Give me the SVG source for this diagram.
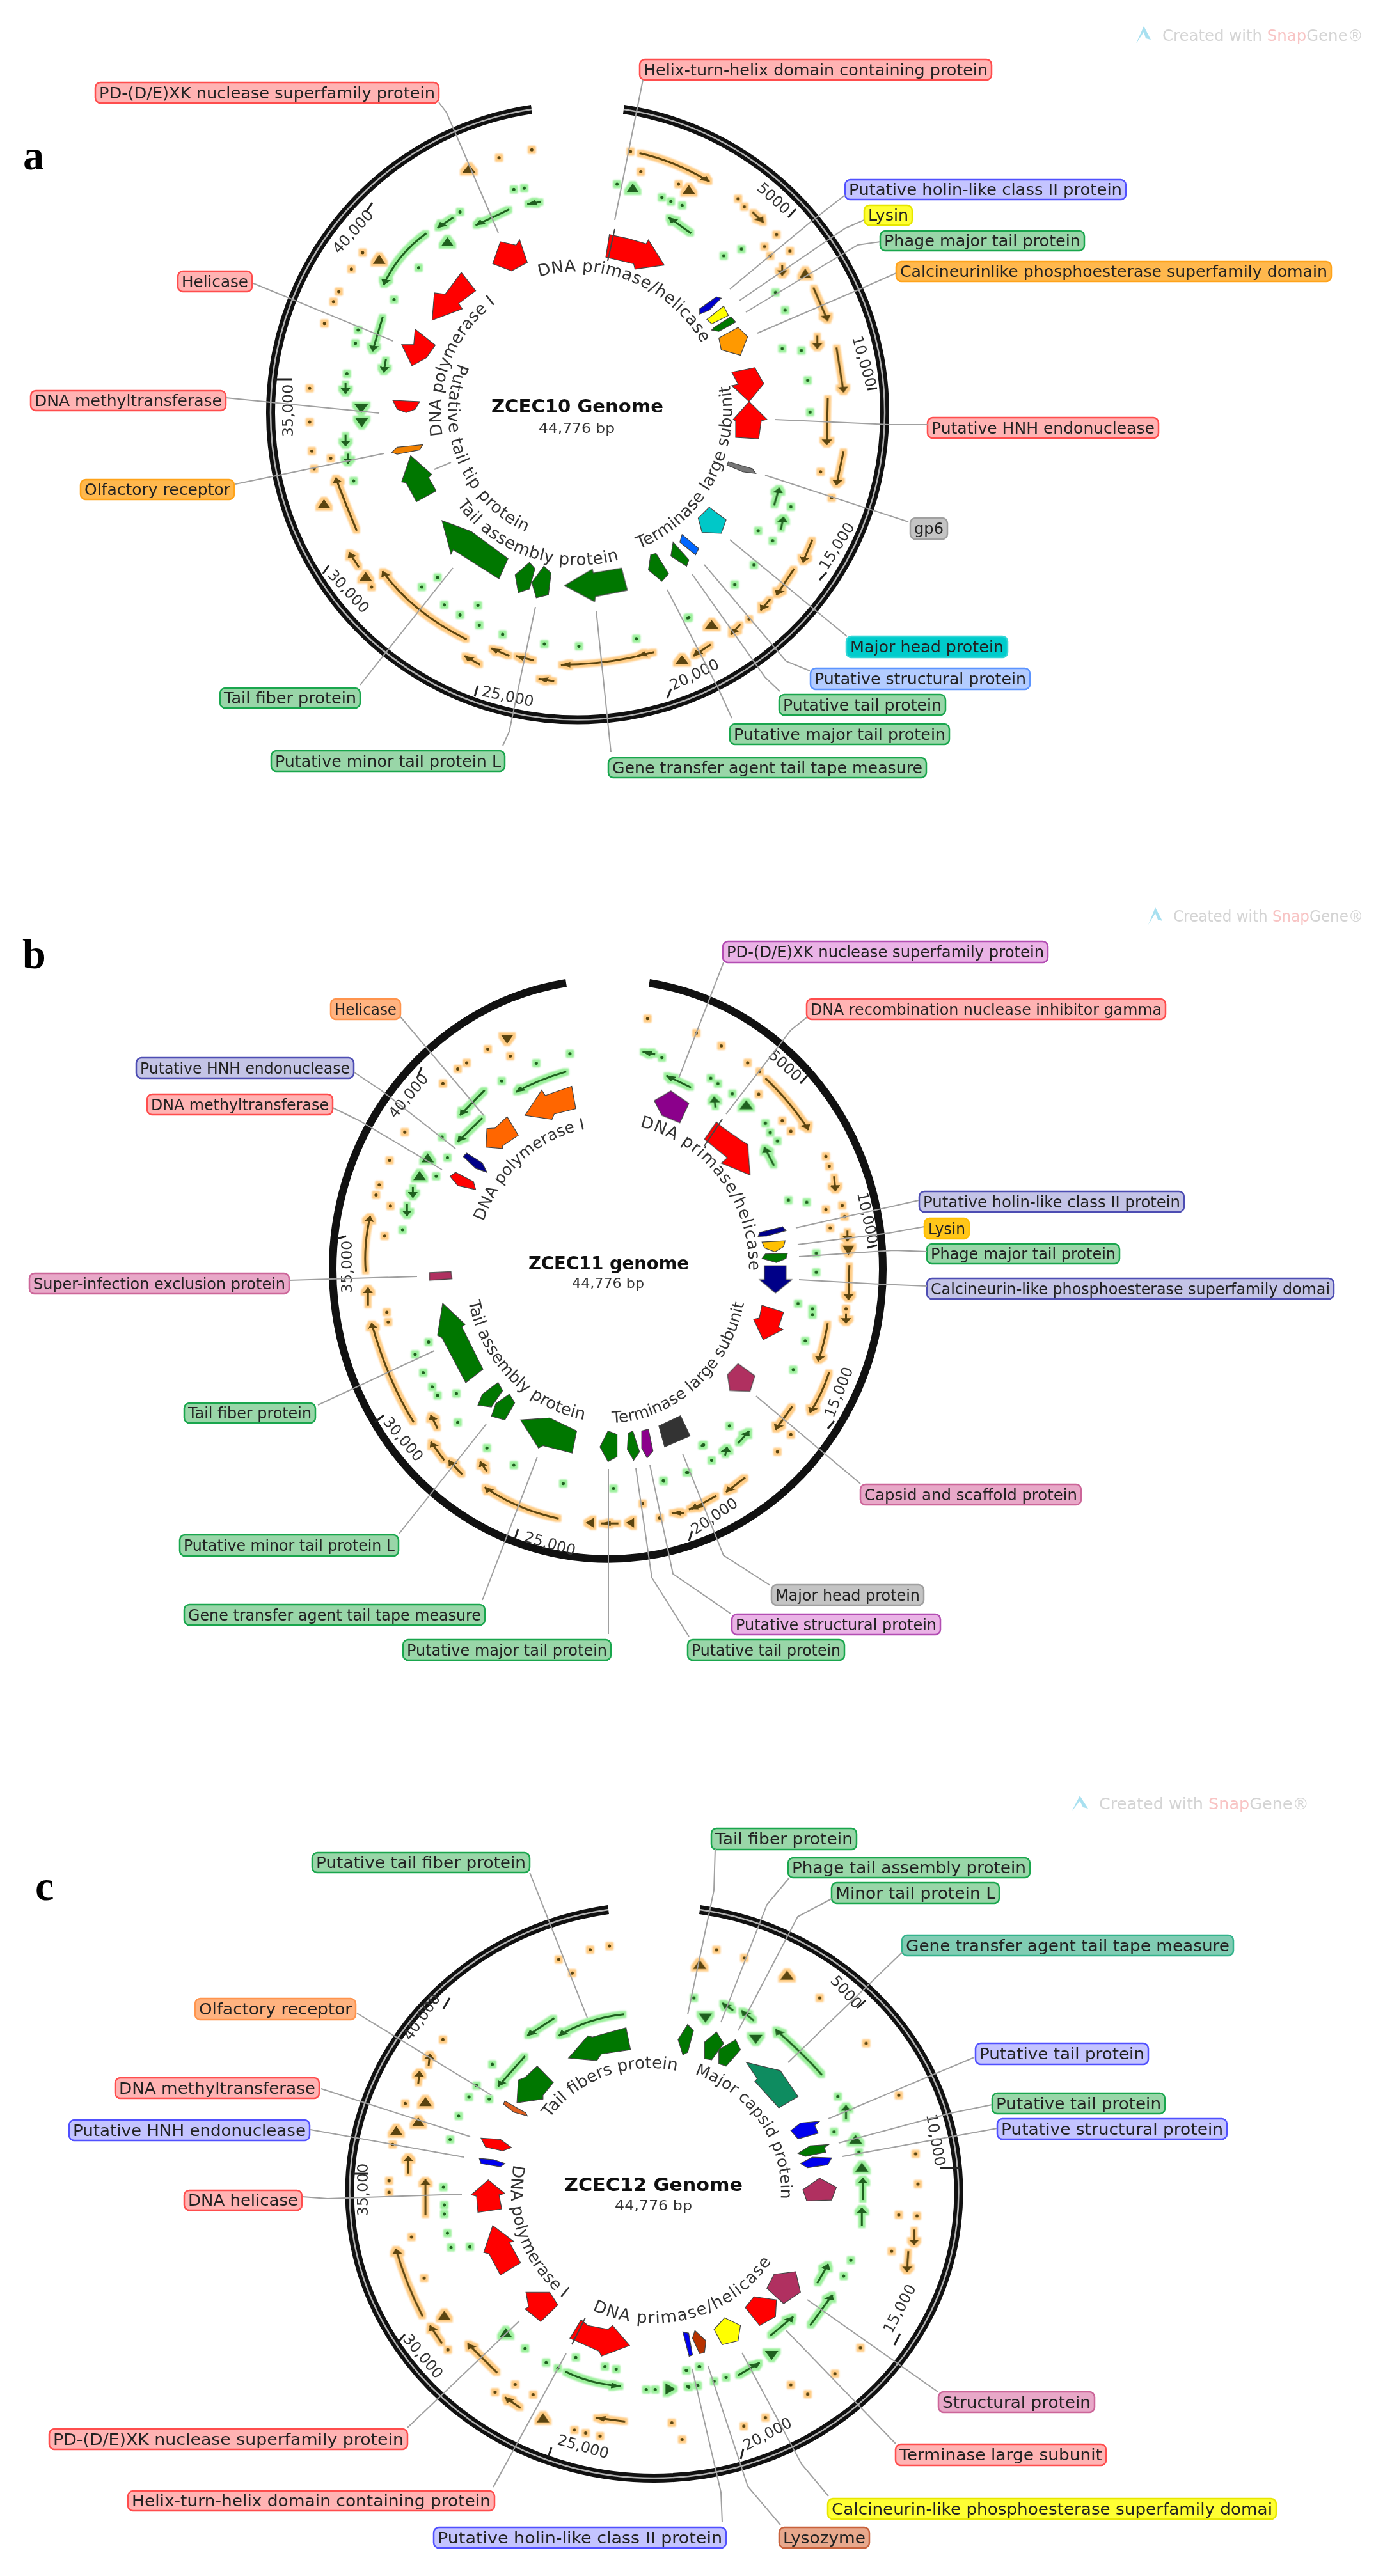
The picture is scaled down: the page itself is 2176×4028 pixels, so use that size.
<svg xmlns="http://www.w3.org/2000/svg" width="2176" height="4028" viewBox="0 0 2176 4028">
<style>
text{font-family:"DejaVu Sans","Liberation Sans",sans-serif}
rect.n{rx:8px;stroke-width:2.5}
.l{font-size:24px;fill:#222}
.r{fill:#ffb3b3;stroke:#ff4d4d}.bl{fill:#c4c4ff;stroke:#5050ff}.ye{fill:#ffff33;stroke:#e6e600}.gn{fill:#99d6a8;stroke:#19a64d}.or{fill:#ffb84d;stroke:#ffa31a}.gy{fill:#c4c4c4;stroke:#a0a0a0}.cy{fill:#00cccc;stroke:#33d6d6}.lb{fill:#b3ccff;stroke:#5c94ff}.oo{fill:#ffb380;stroke:#ff944d}.nv{fill:#c4c4e6;stroke:#4d4db3}.pk{fill:#e8a8c8;stroke:#cc6699}.pp{fill:#eab3e6;stroke:#b34db3}.am{fill:#ffc61a;stroke:#ffbf00}.tl{fill:#80ccb3;stroke:#33b38c}.ly{fill:#e8a88c;stroke:#c8623c}
.g{stroke:#444;stroke-width:1.2;vector-effect:non-scaling-stroke}
.ring{fill:none;stroke-linecap:butt}
.rk{stroke:#111;stroke-width:14}.ri{stroke:#b4b4b4;stroke-width:2.5}
.tk{stroke:#222;stroke-width:3;fill:none}
.tt{font-size:23.5px;fill:#333}
.cv{font-size:26px;fill:#333}
.tm{font-size:28px;font-weight:bold;fill:#111}
.bp{font-size:22px;fill:#333}
.pl{font-family:"Liberation Serif",serif;font-weight:bold;font-size:66px;fill:#000}
.wm{font-size:24px;fill:#d4d4d4}
.cn{fill:none;stroke:#a0a0a0;stroke-width:2}
.cd{fill:none;stroke:#444;stroke-width:2}
.ko,.kg{fill:none}
.ko path{stroke:#5a4410}.kg path{stroke:#1f5f1f}
.dot{stroke-width:5;stroke-linecap:round;vector-effect:non-scaling-stroke}
.ar{stroke-width:3;vector-effect:non-scaling-stroke}
.ko .ar{marker-end:url(#ho)}.kg .ar{marker-end:url(#hg)}
.ko .tri{stroke:none;fill:#5a4410}.kg .tri{stroke:none;fill:#1f5f1f}
</style>
<defs>
<marker id="ho" markerUnits="userSpaceOnUse" viewBox="0 0 20 20" refX="19" refY="10" markerWidth="22" markerHeight="22" orient="auto"><polygon points="0 0 20 10 0 20" fill="#5a4410"/></marker>
<marker id="hg" markerUnits="userSpaceOnUse" viewBox="0 0 20 20" refX="19" refY="10" markerWidth="22" markerHeight="22" orient="auto"><polygon points="0 0 20 10 0 20" fill="#1f5f1f"/></marker>
<filter id="go" filterUnits="userSpaceOnUse" x="0" y="0" width="2176" height="4028" color-interpolation-filters="sRGB"><feMorphology in="SourceAlpha" operator="dilate" radius="4" result="a"/><feFlood flood-color="#ffcc85"/><feComposite in2="a" operator="in"/><feGaussianBlur stdDeviation="1" result="h"/><feMerge><feMergeNode in="h"/><feMergeNode in="SourceGraphic"/></feMerge></filter>
<filter id="gg" filterUnits="userSpaceOnUse" x="0" y="0" width="2176" height="4028" color-interpolation-filters="sRGB"><feMorphology in="SourceAlpha" operator="dilate" radius="4" result="a"/><feFlood flood-color="#9cf09c"/><feComposite in2="a" operator="in"/><feGaussianBlur stdDeviation="1" result="h"/><feMerge><feMergeNode in="h"/><feMergeNode in="SourceGraphic"/></feMerge></filter>
<filter id="soft" filterUnits="userSpaceOnUse" x="0" y="0" width="2176" height="4028" color-interpolation-filters="sRGB"><feGaussianBlur stdDeviation="0.6"/></filter>
<path id="ap1" d="M843 433A222 222 0 0 1 1126 646"/>
<path id="ap2" d="M692 681A215 215 0 0 1 904 431"/>
<path id="ap3" d="M716 568A203 203 0 0 0 904 849"/>
<path id="ap4" d="M714 789A238 238 0 0 0 1040 841"/>
<path id="ap5" d="M999 858A226 232 0 0 0 1130 560"/>
<path id="bp1" d="M1000 1762A218 226 0 0 1 1161 2050"/>
<path id="bp2" d="M756 1910A208 222 0 0 1 1000 1768"/>
<path id="bp3" d="M732 2035A225 238 0 0 0 1000 2218"/>
<path id="bp4" d="M957 2225A219 240 0 0 0 1166 1950"/>
<path id="cp1" d="M859 3312A195 190 0 0 1 1110 3257"/>
<path id="cp2" d="M1086 3243A200 194 0 0 1 1190 3530"/>
<path id="cp3" d="M803 3385A222 215 0 0 0 1000 3641"/>
<path id="cp4" d="M926 3612A220 212 0 0 0 1240 3400"/>
</defs>
<rect width="2176" height="4028" fill="#fff"/>
<g filter="url(#soft)">
<!-- panel letters and watermarks -->
<text class="pl" x="36" y="265">a</text><text class="pl" x="35" y="1514">b</text><text class="pl" x="55" y="2971">c</text>
<g id="wm-a"><path d="M1776 68L1788 41L1799 62L1791 60L1788 50Z" fill="#a8e0f0"/><text class="wm" x="1817" y="64" textLength="314" lengthAdjust="spacingAndGlyphs">Created with <tspan fill="#f8c4c4">Snap</tspan>Gene®</text></g>
<g id="wm-b"><path d="M1795 1446L1806 1419L1817 1440L1810 1438L1806 1428Z" fill="#a8e0f0"/><text class="wm" x="1834" y="1441" textLength="297" lengthAdjust="spacingAndGlyphs">Created with <tspan fill="#f8c4c4">Snap</tspan>Gene®</text></g>
<g id="wm-c"><path d="M1675 2833L1688 2808L1701 2828L1693 2826L1688 2816Z" fill="#a8e0f0"/><text class="wm" x="1718" y="2829" textLength="328" lengthAdjust="spacingAndGlyphs">Created with <tspan fill="#f8c4c4">Snap</tspan>Gene®</text></g>
<!-- rings -->
<g id="ring-a" class="ring"><path class="rk" fill="none" d="M975 171A480 480 0 1 1 831 171"/><path class="ri" fill="none" d="M975 171A480 480 0 1 1 831 171"/></g>
<g id="ring-b" class="ring"><path class="rk" fill="none" style="stroke-width:12" d="M1015 1537A430 453 0 1 1 885 1537"/></g>
<g id="ring-c" class="ring"><path class="rk" fill="none" d="M1094 2986A476 447 0 1 1 951 2986"/><path class="ri" fill="none" d="M1094 2986A476 447 0 1 1 951 2986"/></g>
<g id="ticks-a"><path class="tk" d="M582 317L572 332M456 593H428M514 884L505 897M747 1072L742 1089M1049 1077L1043 1092M1292 895L1281 907M1371 607L1356 609M1244 327L1232 340"/>
<text class="tt" transform="translate(530 398) rotate(-48)">40,000</text><text class="tt" transform="translate(458 683) rotate(-90)">35,000</text><text class="tt" transform="translate(511 900) rotate(47)">30,000</text><text class="tt" transform="translate(752 1088) rotate(12)">25,000</text><text class="tt" transform="translate(1052 1080) rotate(-26)">20,000</text><text class="tt" transform="translate(1293 893) rotate(-58)">15,000</text><text class="tt" transform="translate(1332 528) rotate(74)">10,000</text><text class="tt" transform="translate(1182 296) rotate(42)">5000</text></g>
<g id="ticks-b"><path class="tk" d="M659 1669L652 1686M541 1933L527 1937M600 2213L586 2224M810 2391L805 2406M1082 2394L1077 2410M1304 2222L1294 2234M1371 1947L1356 1951M1262 1682L1251 1694"/>
<text class="tt" transform="translate(618 1750) rotate(-50)">40,000</text><text class="tt" transform="translate(550 2022) rotate(-90)">35,000</text><text class="tt" transform="translate(598 2224) rotate(50)">30,000</text><text class="tt" transform="translate(818 2410) rotate(16)">25,000</text><text class="tt" transform="translate(1087 2400) rotate(-34)">20,000</text><text class="tt" transform="translate(1303 2218) rotate(-68)">15,000</text><text class="tt" transform="translate(1340 1866) rotate(78)">10,000</text><text class="tt" transform="translate(1200 1652) rotate(42)">5000</text></g>
<g id="ticks-c"><path class="tk" d="M703 3124L693 3141M575 3399H552M633 3650L620 3665M862 3827L857 3842M1162 3829L1158 3845M1500 3390H1470M1407 3649L1398 3667M1353 3128L1340 3140"/>
<text class="tt" transform="translate(642 3192) rotate(-55)">40,000</text><text class="tt" transform="translate(575 3465) rotate(-90)">35,000</text><text class="tt" transform="translate(629 3658) rotate(50)">30,000</text><text class="tt" transform="translate(870 3822) rotate(16)">25,000</text><text class="tt" transform="translate(1167 3832) rotate(-28)">20,000</text><text class="tt" transform="translate(1394 3650) rotate(-62)">15,000</text><text class="tt" transform="translate(1448 3307) rotate(80)">10,000</text><text class="tt" transform="translate(1297 3098) rotate(48)">5000</text></g>
<!-- curved gene-group titles and centre text -->
<g id="titles-a"><text class="cv" letter-spacing=".5"><textPath href="#ap1">DNA primase/helicase</textPath></text><text class="cv"><textPath href="#ap2">DNA polymerase I</textPath></text><text class="cv" letter-spacing=".7"><textPath href="#ap3">Putative tail tip protein</textPath></text><text class="cv" letter-spacing=".5"><textPath href="#ap4">Tail assembly protein</textPath></text><text class="cv" letter-spacing=".2"><textPath href="#ap5">Terminase large subunit</textPath></text>
<text class="tm" x="768" y="645" textLength="269" lengthAdjust="spacingAndGlyphs">ZCEC10 Genome</text><text class="bp" x="842" y="677" textLength="119" lengthAdjust="spacingAndGlyphs">44,776 bp</text></g>
<g id="titles-b"><text class="cv" letter-spacing="1"><textPath href="#bp1">DNA primase/helicase</textPath></text><text class="cv" style="font-size:25px"><textPath href="#bp2">DNA polymerase I</textPath></text><text class="cv"><textPath href="#bp3">Tail assembly protein</textPath></text><text class="cv" style="font-size:25px"><textPath href="#bp4">Terminase large subunit</textPath></text>
<text class="tm" x="826" y="1985" textLength="251" lengthAdjust="spacingAndGlyphs">ZCEC11 genome</text><text class="bp" x="894" y="2014" textLength="113" lengthAdjust="spacingAndGlyphs">44,776 bp</text></g>
<g id="titles-c"><text class="cv"><textPath href="#cp1">Tail fibers protein</textPath></text><text class="cv" style="font-size:25px"><textPath href="#cp2">Major capsid protein</textPath></text><text class="cv"><textPath href="#cp3">DNA polymerase I</textPath></text><text class="cv" letter-spacing="1.5"><textPath href="#cp4">DNA primase/helicase</textPath></text>
<text class="tm" x="882" y="3426" textLength="279" lengthAdjust="spacingAndGlyphs">ZCEC12 Genome</text><text class="bp" x="961" y="3456" textLength="121" lengthAdjust="spacingAndGlyphs">44,776 bp</text></g>
<!-- small ORF features -->
<g id="a-orfs-orange" class="ko" filter="url(#go)">
<g transform="matrix(.7015 0 0 .4145 0 0)"><path class="dot" d="M1185 565h.1M1112 595h.1M808 953h.1M783 1015h.1M755 1100h.1M743 1138h.1M723 1220h.1M690 1465h.1M1428 648h.1M1512 695h.1M1405 572h.1"/><path class="tri" d="M1045 620l15 32h-30zM845 960l14 36h-28zM1535 698l14 34h-28z"/><path class="ar" d="M1425 578Q1500 605 1581 685"/></g>
<g transform="matrix(.75 0 0 .4145 1000 0)"><path class="dot" d="M205 750h.1M218 780h.1M285 885h.1M260 930h.1M272 965h.1M313 947h.1"/><path class="tri" d="M345 1012l12 36h-24z"/><path class="ar" d="M235 800L258 840"/><path class="ar" d="M297 1000L297 1040"/><path class="ar" d="M362 1085L392 1210"/><path class="ar" d="M370 1265L370 1315"/><path class="ar" d="M410 1310L425 1480"/></g>
<g transform="matrix(.7015 0 0 .3954 0 650)"><path class="dot" d="M690 25h.1M695 140h.1M737 168h.1M700 210h.1M828 678h.1"/><path class="tri" d="M722 330l14 36h-28zM815 618l14 36h-28zM1520 948l14 34h-28z"/><path class="ar" d="M795 455Q770 350 748 245"/><path class="ar" d="M800 600L778 540"/><path class="ar" d="M1040 885Q920 780 852 615"/><path class="ar" d="M1070 985L1035 950"/><path class="ar" d="M1135 950L1095 920"/><path class="ar" d="M1190 968L1150 950"/><path class="ar" d="M1235 1050L1200 1040"/><path class="ar" d="M1435 945Q1345 985 1250 985"/></g>
<g transform="matrix(.75 0 0 .3954 1000 650)"><path class="dot" d="M377 222h.1M400 325h.1M228 805h.1"/><path class="tri" d="M150 808l14 34h-28zM88 948l14 34h-28z"/><path class="ar" d="M392 -71L390 115"/><path class="ar" d="M425 140L410 275"/><path class="ar" d="M360 490L340 580"/><path class="ar" d="M322 605L285 710"/><path class="ar" d="M272 725L252 770"/><path class="ar" d="M210 825L190 865"/><path class="ar" d="M148 905L112 950"/><path class="ar" d="M30 935L-5 950"/></g>
</g>
<g id="a-orfs-green" class="kg" filter="url(#gg)">
<g transform="matrix(.7015 0 0 .4145 0 0)"><path class="dot" d="M1145 715h.1M1168 710h.1M1025 800h.1M933 1010h.1M878 1130h.1M798 1245h.1M792 1295h.1M773 1410h.1M1375 695h.1M1475 745h.1M1495 760h.1M1520 775h.1"/><path class="tri" d="M997 895l14 34h-28zM790 1525h30l-15 34zM1410 692l14 34h-28z"/><path class="ar" d="M1135 790L1060 850"/><path class="ar" d="M1205 762L1175 770"/><path class="ar" d="M1010 820L975 860"/><path class="ar" d="M950 880Q885 960 855 1075"/><path class="ar" d="M853 1195L830 1325"/><path class="ar" d="M860 1355L855 1405"/><path class="ar" d="M770 1445L770 1485"/><path class="ar" d="M1540 880L1490 820"/></g>
<g transform="matrix(.75 0 0 .4145 1000 0)"><path class="dot" d="M175 965h.1M212 940h.1M283 1103h.1M303 1170h.1M297 1315h.1M337 1322h.1M350 1435h.1M355 1555h.1"/></g>
<g transform="matrix(.7015 0 0 .3954 0 650)"><path class="dot" d="M788 258h.1M975 640h.1M940 678h.1M990 748h.1M1065 750h.1M1025 788h.1M1068 828h.1M1120 865h.1M1213 903h.1M1290 912h.1M1418 882h.1M1535 798h.1"/><path class="ar" d="M770 75L770 120"/><path class="ar" d="M775 150L775 190"/><path class="tri" d="M792 10h28l-14 36z"/></g>
<g transform="matrix(.75 0 0 .3954 1000 650)"><path class="dot" d="M315 360h.1M247 455h.1M277 495h.1M238 590h.1M198 668h.1M100 800h.1"/><path class="ar" d="M280 355L291 285"/><path class="ar" d="M294 450L300 400"/></g>
</g>
<g id="b-orfs-orange" class="ko" filter="url(#go)">
<g transform="matrix(.7015 0 0 .4145 0 1400)"><path class="dot" d="M1443 465h.1M1137 607h.1M1087 580h.1M1040 632h.1M1020 655h.1M987 710h.1M902 893h.1M868 1000h.1M845 1092h.1M838 1130h.1M870 1172h.1M857 1285h.1"/><path class="tri" d="M1130 560l-14 -34h28z"/><path class="ar" d="M815 1420Q810 1320 825 1210"/><path class="ar" d="M820 1548L820 1480"/></g>
<g transform="matrix(.75 0 0 .4145 1000 1400)"><path class="dot" d="M118 520h.1M170 568h.1M225 632h.1M250 665h.1M248 750h.1M297 850h.1M315 890h.1M388 985h.1M395 1022h.1M388 1185h.1M422 1170h.1M427 1212h.1M397 1255h.1M430 1560h.1"/><path class="tri" d="M435 1358l-12 -36h24z"/><path class="ar" d="M262 690Q310 770 352 885"/><path class="ar" d="M405 1060L408 1115"/><path class="ar" d="M433 1265L433 1305"/><path class="ar" d="M437 1395L435 1525"/></g>
<g transform="matrix(.7015 0 0 .3827 0 2050)"><path class="dot" d="M862 5h.1M865 45h.1M1432 787h.1M1470 845h.1"/><path class="tri" d="M1305 865l18 -20v40zM1395 865l18 -20v40z"/><path class="ar" d="M922 455Q865 290 828 50"/><path class="ar" d="M975 480L960 425"/><path class="ar" d="M990 610L960 535"/><path class="ar" d="M1030 668L1000 610"/><path class="ar" d="M1085 655L1070 615"/><path class="ar" d="M1245 848Q1150 810 1080 720"/><path class="ar" d="M1378 868L1340 868"/><path class="ar" d="M1525 825L1497 825"/><path class="ar" d="M1568 795L1535 810"/></g>
<g transform="matrix(.75 0 0 .3827 1000 2050)"><path class="dot" d="M315 505h.1M287 575h.1"/><path class="ar" d="M430 10L430 50"/><path class="ar" d="M392 50Q385 130 372 205"/><path class="ar" d="M395 250Q380 340 355 415"/><path class="ar" d="M318 390L283 485"/><path class="ar" d="M220 680L180 740"/><path class="ar" d="M160 755L108 810"/></g>
</g>
<g id="b-orfs-green" class="kg" filter="url(#gg)">
<g transform="matrix(.7015 0 0 .4145 0 1400)"><path class="dot" d="M1270 598h.1M1195 633h.1M1118 700h.1M985 912h.1M997 990h.1M972 1060h.1M897 1262h.1M1475 612h.1"/><path class="tri" d="M953 973l14 34h-28zM935 1040l14 34h-28z"/><path class="ar" d="M1262 665Q1200 695 1150 742"/><path class="ar" d="M1080 735L1025 830"/><path class="ar" d="M1075 840L1020 930"/><path class="ar" d="M920 1100L920 1140"/><path class="ar" d="M907 1165L907 1210"/><path class="ar" d="M1460 600L1432 590"/><path class="ar" d="M1540 725L1485 680"/></g>
<g transform="matrix(.75 0 0 .4145 1000 1400)"><path class="dot" d="M148 690h.1M163 710h.1M193 748h.1M262 860h.1M272 895h.1M287 927h.1M310 1150h.1M348 1158h.1M368 1350h.1M368 1422h.1M330 1540h.1M360 1560h.1"/><path class="tri" d="M222 773l14 34h-28z"/><path class="ar" d="M158 800L155 760"/><path class="ar" d="M280 1020L260 950"/></g>
<g transform="matrix(.7015 0 0 .3827 0 2050)"><path class="dot" d="M955 127h.1M925 177h.1M943 252h.1M963 310h.1M975 345h.1M1017 337h.1M1020 455h.1M1085 560h.1M1145 630h.1M1255 705h.1M1367 725h.1M1478 693h.1M1530 660h.1M1565 550h.1"/></g>
<g transform="matrix(.75 0 0 .3827 1000 2050)"><path class="dot" d="M360 15h.1M345 122h.1M320 240h.1M187 470h.1M133 547h.1M150 610h.1M100 660h.1M50 695h.1"/><path class="ar" d="M205 540L228 490"/><path class="ar" d="M178 590L182 555"/></g>
</g>
<g id="c-orfs-orange" class="ko" filter="url(#go)">
<g transform="matrix(.7015 0 0 .3954 0 2780)"><path class="dot" d="M1358 665h.1M1315 680h.1M1245 718h.1M1275 772h.1M987 1035h.1M903 1288h.1M875 1450h.1"/><path class="tri" d="M948 1262l14 36h-28zM932 1342l14 36h-28zM883 1377l14 36h-28z"/><path class="ar" d="M955 1140L958 1090"/><path class="ar" d="M932 1210L935 1160"/><path class="ar" d="M910 1565L910 1495"/></g>
<g transform="matrix(.75 0 0 .3954 1000 2780)"><path class="dot" d="M160 680h.1M218 712h.1M375 870h.1M472 1050h.1M540 1255h.1M575 1487h.1"/><path class="tri" d="M125 720l14 36h-28zM307 762l14 36h-28z"/></g>
<g transform="matrix(.7015 0 0 .4005 0 3400)"><path class="dot" d="M867 25h.1M867 70h.1M917 245h.1M945 405h.1M998 685h.1M1148 820h.1M1103 850h.1M1188 860h.1M1280 998h.1M1305 1010h.1M1337 1022h.1M1497 970h.1M1520 1035h.1"/><path class="tri" d="M990 532l14 36h-28zM1210 932l14 36h-28z"/><path class="ar" d="M948 160L948 20"/><path class="ar" d="M942 555Q905 430 882 290"/><path class="ar" d="M985 660L958 590"/><path class="ar" d="M1108 775L1042 660"/><path class="ar" d="M1160 912L1125 870"/><path class="ar" d="M1393 965L1328 950"/></g>
<g transform="matrix(.75 0 0 .4005 1000 3400)"><path class="dot" d="M580 38h.1M540 158h.1M578 162h.1M525 300h.1M460 677h.1M407 778h.1M315 822h.1M350 858h.1M262 950h.1M217 983h.1"/><path class="ar" d="M572 215L572 275"/><path class="ar" d="M560 300L557 380"/></g>
</g>
<g id="c-orfs-green" class="kg" filter="url(#gg)">
<g transform="matrix(.7015 0 0 .3954 0 2780)"><path class="dot" d="M1097 1133h.1M1062 1217h.1M1045 1262h.1M1090 1270h.1M1022 1337h.1M1003 1430h.1"/><path class="ar" d="M1390 935Q1310 950 1245 1020"/><path class="ar" d="M1235 950L1175 1020"/><path class="ar" d="M1170 1100L1110 1220"/></g>
<g transform="matrix(.75 0 0 .3954 1000 2780)"><path class="dot" d="M113 870h.1M413 1260h.1M405 1400h.1M457 1480h.1"/><path class="tri" d="M137 968l-14 -36h28zM242 1052l-14 -36h28zM450 1412l14 36h-28zM463 1522l14 36h-28z"/><path class="ar" d="M195 920L172 890"/><path class="ar" d="M238 960L212 920"/><path class="ar" d="M380 1175Q340 1090 283 995"/><path class="ar" d="M430 1350L430 1295"/></g>
<g transform="matrix(.7015 0 0 .4005 0 3400)"><path class="dot" d="M988 50h.1M990 120h.1M990 155h.1M997 230h.1M1005 285h.1M1047 283h.1M1170 680h.1M1283 715h.1M1348 750h.1M1373 760h.1M1217 735h.1M1243 757h.1M1440 840h.1M1460 840h.1M1530 765h.1M1558 750h.1M1535 830h.1M1555 825h.1"/><path class="tri" d="M1127 600l14 36h-28zM1505 838l-22 -22v44z"/><path class="ar" d="M1260 770Q1310 815 1383 828"/></g>
<g transform="matrix(.75 0 0 .4005 1000 3400)"><path class="dot" d="M440 335h.1M425 397h.1M97 765h.1M125 750h.1M100 828h.1M120 823h.1M155 808h.1M180 793h.1"/><path class="tri" d="M275 725l-14 -36h28z"/><path class="ar" d="M465 100L465 15"/><path class="ar" d="M463 200L463 130"/><path class="ar" d="M370 425L393 350"/><path class="ar" d="M355 590L402 470"/><path class="ar" d="M272 630L320 555"/><path class="ar" d="M205 785L250 735"/></g>
</g>
<!-- PANEL A NODES -->
<g id="a-pd"><rect class="n r" x="149" y="129" width="537" height="32"/><text class="l" x="155" y="154" textLength="525" lengthAdjust="spacingAndGlyphs">PD-(D/E)XK nuclease superfamily protein</text><polygon class="g" fill="#f00" transform="matrix(.7015 0 0 .4145 0 0)" points="1115,912 1150,925 1158,905 1175,990 1140,1022 1098,995"/></g>
<g id="a-hth"><rect class="n r" x="1000" y="93" width="550" height="32"/><text class="l" x="1006" y="118" textLength="538" lengthAdjust="spacingAndGlyphs">Helix-turn-helix domain containing protein</text><polygon class="g" fill="#f00" transform="matrix(.7015 0 0 .4145 0 0)" points="1358,885 1400,900 1440,920 1445,905 1480,1000 1415,1015 1412,995 1350,970"/></g>
<g id="a-holin"><rect class="n bl" x="1321" y="281" width="439" height="31"/><text class="l" x="1327" y="305" textLength="427" lengthAdjust="spacingAndGlyphs">Putative holin-like class II protein</text><polygon class="g" fill="#00c" transform="matrix(.75 0 0 .4145 1000 0)" points="160,1120 170,1125 145,1170 125,1185 125,1165"/></g>
<g id="a-lysin"><rect class="n ye" x="1351" y="321" width="75" height="31"/><text class="l" x="1357" y="345" textLength="63" lengthAdjust="spacingAndGlyphs">Lysin</text><polygon class="g" fill="#ff0" transform="matrix(.75 0 0 .4145 1000 0)" points="175,1155 185,1190 150,1222 140,1205"/></g>
<g id="a-phage"><rect class="n gn" x="1376" y="361" width="319" height="31"/><text class="l" x="1382" y="385" textLength="307" lengthAdjust="spacingAndGlyphs">Phage major tail protein</text><polygon class="g" fill="#070" transform="matrix(.75 0 0 .4145 1000 0)" points="190,1195 200,1215 165,1250 150,1245 155,1235"/></g>
<g id="a-calc"><rect class="n or" x="1401" y="409" width="680" height="31"/><text class="l" x="1407" y="433" textLength="668" lengthAdjust="spacingAndGlyphs">Calcineurinlike phosphoesterase superfamily domain</text><polygon class="g" fill="#f90" transform="matrix(.75 0 0 .4145 1000 0)" points="205,1235 225,1270 210,1340 170,1320 165,1275"/></g>
<g id="a-terminase-gene"><polygon class="g" fill="#f00" points="1144,582 1180,575 1194,600 1171,628 1144,603 1154,601"/></g>
<g id="a-hnh"><rect class="n r" x="1450" y="653" width="361" height="32"/><text class="l" x="1456" y="678" textLength="349" lengthAdjust="spacingAndGlyphs">Putative HNH endonuclease</text><polygon class="g" fill="#f00" points="1171,628 1199,656 1190,658 1186,686 1150,684 1150,658 1146,656"/></g>
<g id="a-gp6"><rect class="n gy" x="1423" y="810" width="58" height="33"/><text class="l" x="1429" y="835" textLength="46" lengthAdjust="spacingAndGlyphs">gp6</text><polygon class="g" fill="#777" transform="matrix(.75 0 0 .3954 1000 650)" points="185,182 235,210 242,228 215,222 182,195"/></g>
<g id="a-head"><rect class="n cy" x="1323" y="995" width="252" height="33"/><text class="l" x="1329" y="1020" textLength="240" lengthAdjust="spacingAndGlyphs">Major head protein</text><polygon class="g" fill="#00c8c8" transform="matrix(.75 0 0 .3954 1000 650)" points="145,362 180,412 170,465 130,462 122,405"/></g>
<g id="a-struct"><rect class="n lb" x="1267" y="1045" width="343" height="33"/><text class="l" x="1273" y="1070" textLength="331" lengthAdjust="spacingAndGlyphs">Putative structural protein</text><polygon class="g" fill="#06f" transform="matrix(.7015 0 0 .3954 0 650)" points="1520,470 1557,525 1550,550 1515,500"/></g>
<g id="a-ptail"><rect class="n gn" x="1218" y="1086" width="260" height="32"/><text class="l" x="1224" y="1111" textLength="248" lengthAdjust="spacingAndGlyphs">Putative tail protein</text><polygon class="g" fill="#070" transform="matrix(.7015 0 0 .3954 0 650)" points="1500,500 1535,570 1530,595 1495,555"/></g>
<g id="a-pmajor"><rect class="n gn" x="1141" y="1132" width="343" height="32"/><text class="l" x="1147" y="1157" textLength="331" lengthAdjust="spacingAndGlyphs">Putative major tail protein</text><polygon class="g" fill="#070" transform="matrix(.7015 0 0 .3954 0 650)" points="1462,545 1490,625 1475,655 1445,610 1450,550"/></g>
<g id="a-gta"><rect class="n gn" x="951" y="1185" width="497" height="31"/><text class="l" x="957" y="1209" textLength="485" lengthAdjust="spacingAndGlyphs">Gene transfer agent tail tape measure</text><polygon class="g" fill="#070" transform="matrix(.7015 0 0 .3954 0 650)" points="1258,672 1320,607 1322,622 1385,603 1398,690 1327,715 1325,735"/></g>
<g id="a-fiber"><rect class="n gn" x="344" y="1076" width="219" height="31"/><text class="l" x="350" y="1100" textLength="207" lengthAdjust="spacingAndGlyphs">Tail fiber protein</text><polygon class="g" fill="#070" transform="matrix(.7015 0 0 .3954 0 650)" points="985,415 1050,458 1132,565 1112,645 1010,530 1005,547"/></g>
<g id="a-minor"><rect class="n gn" x="424" y="1174" width="365" height="32"/><text class="l" x="430" y="1199" textLength="353" lengthAdjust="spacingAndGlyphs">Putative minor tail protein L</text><polygon class="g" fill="#070" transform="matrix(.7015 0 0 .3954 0 650)" points="1212,595 1228,622 1222,708 1195,720 1185,660"/><polygon class="g" fill="#070" transform="matrix(.7015 0 0 .3954 0 650)" points="1180,580 1192,605 1180,685 1155,700 1148,630"/></g>
<g id="a-olf"><rect class="n or" x="126" y="750" width="240" height="31"/><text class="l" x="132" y="774" textLength="228" lengthAdjust="spacingAndGlyphs">Olfactory receptor</text><polygon class="g" fill="#f08000" transform="matrix(.7015 0 0 .3954 0 650)" points="885,125 942,115 935,135 885,152 873,145"/></g>
<g id="a-tip"><polygon class="g" fill="#070" transform="matrix(.7015 0 0 .3954 0 650)" points="915,158 962,232 955,245 972,297 928,340 905,265 895,262"/></g>
<g id="a-meth"><rect class="n r" x="48" y="611" width="305" height="31"/><text class="l" x="54" y="635" textLength="293" lengthAdjust="spacingAndGlyphs">DNA methyltransferase</text><polygon class="g" fill="#f00" points="614,626 656,628 649,640 635,645 621,640"/></g>
<g id="a-hel"><rect class="n r" x="278" y="424" width="116" height="32"/><text class="l" x="284" y="449" textLength="104" lengthAdjust="spacingAndGlyphs">Helicase</text><polygon class="g" fill="#f00" transform="matrix(.7015 0 0 .4145 0 0)" points="925,1242 970,1302 950,1350 918,1380 895,1300 922,1300"/></g>
<g id="a-pol"><polygon class="g" fill="#f00" transform="matrix(.7015 0 0 .4145 0 0)" points="1028,1028 1060,1097 1022,1145 1030,1165 963,1208 968,1105 992,1110"/></g>
<!-- PANEL B NODES -->
<g id="b-hel"><rect class="n oo" x="517" y="1562" width="109" height="32"/><text class="l" x="523" y="1587" textLength="97" lengthAdjust="spacingAndGlyphs">Helicase</text><polygon class="g" fill="#f60" transform="matrix(.7015 0 0 .4145 0 1400)" points="1130,835 1155,905 1120,945 1120,955 1083,950 1085,880 1103,878"/></g>
<g id="b-pol"><polygon class="g" fill="#f60" transform="matrix(.7015 0 0 .4145 0 1400)" points="1274,720 1283,805 1235,825 1230,845 1170,830 1207,735 1215,755"/></g>
<g id="b-hnh"><rect class="n nv" x="213" y="1654" width="340" height="32"/><text class="l" x="219" y="1679" textLength="328" lengthAdjust="spacingAndGlyphs">Putative HNH endonuclease</text><polygon class="g" fill="#008" transform="matrix(.7015 0 0 .4145 0 1400)" points="1040,972 1075,1010 1085,1045 1060,1030 1032,985"/></g>
<g id="b-meth"><rect class="n r" x="230" y="1711" width="290" height="32"/><text class="l" x="236" y="1736" textLength="278" lengthAdjust="spacingAndGlyphs">DNA methyltransferase</text><polygon class="g" fill="#f00" transform="matrix(.7015 0 0 .4145 0 1400)" points="1015,1045 1055,1080 1060,1110 1020,1095 1003,1060"/></g>
<g id="b-sup"><rect class="n pk" x="46" y="1991" width="406" height="32"/><text class="l" x="52" y="2016" textLength="394" lengthAdjust="spacingAndGlyphs">Super-infection exclusion protein</text><polygon class="g" fill="#b03060" transform="matrix(.7015 0 0 .4145 0 1400)" points="957,1423 1005,1420 1007,1447 957,1452"/></g>
<g id="b-pd"><rect class="n pp" x="1130" y="1472" width="508" height="33"/><text class="l" x="1136" y="1497" textLength="496" lengthAdjust="spacingAndGlyphs">PD-(D/E)XK nuclease superfamily protein</text><polygon class="g" fill="#8b008b" transform="matrix(.7015 0 0 .4145 0 1400)" points="1495,738 1535,785 1515,858 1475,830 1458,775"/></g>
<g id="b-rec"><rect class="n r" x="1261" y="1562" width="561" height="32"/><text class="l" x="1267" y="1587" textLength="549" lengthAdjust="spacingAndGlyphs">DNA recombination nuclease inhibitor gamma</text><polygon class="g" fill="#f00" transform="matrix(.75 0 0 .4145 1000 1400)" points="160,855 172,875 212,925 225,940 230,1055 170,1010 183,990 135,920"/></g>
<g id="b-holin"><rect class="n nv" x="1437" y="1863" width="414" height="32"/><text class="l" x="1443" y="1888" textLength="402" lengthAdjust="spacingAndGlyphs">Putative holin-like class II protein</text><polygon class="g" fill="#008" transform="matrix(.75 0 0 .4145 1000 1400)" points="298,1250 305,1265 265,1285 247,1287 250,1272"/></g>
<g id="b-lysin"><rect class="n am" x="1445" y="1905" width="70" height="32"/><text class="l" x="1451" y="1930" textLength="58" lengthAdjust="spacingAndGlyphs">Lysin</text><polygon class="g" fill="#ffc000" transform="matrix(.75 0 0 .4145 1000 1400)" points="303,1303 300,1325 282,1345 260,1330 255,1308"/></g>
<g id="b-phage"><rect class="n gn" x="1449" y="1945" width="301" height="31"/><text class="l" x="1455" y="1969" textLength="289" lengthAdjust="spacingAndGlyphs">Phage major tail protein</text><polygon class="g" fill="#070" transform="matrix(.75 0 0 .4145 1000 1400)" points="308,1350 305,1370 285,1385 255,1370 262,1353"/></g>
<g id="b-calc"><rect class="n nv" x="1449" y="1999" width="636" height="32"/><text class="l" x="1455" y="2024" textLength="624" lengthAdjust="spacingAndGlyphs">Calcineurin-like phosphoesterase superfamily domai</text><polygon class="g" fill="#008" transform="matrix(.75 0 0 .4145 1000 1400)" points="260,1397 305,1397 305,1450 317,1450 283,1500 250,1450 260,1450"/></g>
<g id="b-terminase-gene"><polygon class="g" fill="#f00" points="1191,2041 1225,2052 1217,2075 1224,2079 1193,2095 1178,2063 1187,2061"/></g>
<g id="b-capsid"><rect class="n pk" x="1345" y="2321" width="345" height="32"/><text class="l" x="1351" y="2346" textLength="333" lengthAdjust="spacingAndGlyphs">Capsid and scaffold protein</text><polygon class="g" fill="#b03060" transform="matrix(.75 0 0 .3827 1000 2050)" points="205,215 240,265 230,328 188,325 183,260"/></g>
<g id="b-head"><rect class="n gy" x="1206" y="2478" width="238" height="32"/><text class="l" x="1212" y="2503" textLength="226" lengthAdjust="spacingAndGlyphs">Major head protein</text><polygon class="g" fill="#333" transform="matrix(.75 0 0 .3827 1000 2050)" points="40,470 85,428 105,510 52,555"/></g>
<g id="b-struct"><rect class="n pp" x="1144" y="2524" width="326" height="32"/><text class="l" x="1150" y="2549" textLength="314" lengthAdjust="spacingAndGlyphs">Putative structural protein</text><polygon class="g" fill="#8b008b" transform="matrix(.7015 0 0 .3827 0 2050)" points="1430,490 1445,483 1455,572 1442,600 1430,560"/></g>
<g id="b-ptail"><rect class="n gn" x="1075" y="2564" width="245" height="32"/><text class="l" x="1081" y="2589" textLength="233" lengthAdjust="spacingAndGlyphs">Putative tail protein</text><polygon class="g" fill="#070" transform="matrix(.7015 0 0 .3827 0 2050)" points="1410,490 1425,575 1412,610 1398,565 1400,500"/></g>
<g id="b-pmajor"><rect class="n gn" x="630" y="2564" width="325" height="32"/><text class="l" x="636" y="2589" textLength="313" lengthAdjust="spacingAndGlyphs">Putative major tail protein</text><polygon class="g" fill="#070" transform="matrix(.7015 0 0 .3827 0 2050)" points="1355,490 1375,505 1375,595 1355,615 1337,555"/></g>
<g id="b-gta"><rect class="n gn" x="288" y="2509" width="470" height="32"/><text class="l" x="294" y="2534" textLength="458" lengthAdjust="spacingAndGlyphs">Gene transfer agent tail tape measure</text><polygon class="g" fill="#070" transform="matrix(.7015 0 0 .3827 0 2050)" points="1160,445 1225,437 1285,490 1275,580 1210,550 1200,560"/></g>
<g id="b-minor"><rect class="n gn" x="281" y="2400" width="342" height="33"/><text class="l" x="287" y="2425" textLength="330" lengthAdjust="spacingAndGlyphs">Putative minor tail protein L</text><polygon class="g" fill="#070" transform="matrix(.7015 0 0 .3827 0 2050)" points="1110,292 1120,325 1095,392 1065,385 1075,340"/><polygon class="g" fill="#070" transform="matrix(.7015 0 0 .3827 0 2050)" points="1135,340 1147,375 1125,445 1095,430 1105,378"/></g>
<g id="b-fiber"><rect class="n gn" x="288" y="2194" width="205" height="31"/><text class="l" x="294" y="2218" textLength="193" lengthAdjust="spacingAndGlyphs">Tail fiber protein</text><polygon class="g" fill="#070" points="692,2038 727,2071 722,2075 755,2141 728,2162 691,2092 684,2088"/></g>
<!-- PANEL C NODES -->
<g id="c-ptf"><rect class="n gn" x="488" y="2897" width="340" height="31"/><text class="l" x="494" y="2921" textLength="328" lengthAdjust="spacingAndGlyphs">Putative tail fiber protein</text><polygon class="g" fill="#070" transform="matrix(.7015 0 0 .3954 0 2780)" points="1395,988 1405,1075 1340,1092 1330,1118 1267,1108 1310,1020 1320,1025"/></g>
<g id="c-tf2"><polygon class="g" fill="#070" transform="matrix(.7015 0 0 .3954 0 2780)" points="1197,1140 1233,1205 1210,1255 1210,1270 1152,1285 1155,1195 1170,1185"/></g>
<g id="c-olf"><rect class="n oo" x="305" y="3125" width="251" height="33"/><text class="l" x="311" y="3150" textLength="239" lengthAdjust="spacingAndGlyphs">Olfactory receptor</text><polygon class="g" fill="#e06020" transform="matrix(.7015 0 0 .3954 0 2780)" points="1125,1278 1172,1325 1175,1337 1145,1322 1122,1290"/></g>
<g id="c-meth"><rect class="n r" x="180" y="3249" width="319" height="32"/><text class="l" x="186" y="3274" textLength="307" lengthAdjust="spacingAndGlyphs">DNA methyltransferase</text><polygon class="g" fill="#f00" transform="matrix(.7015 0 0 .3954 0 2780)" points="1072,1425 1115,1430 1140,1462 1120,1475 1082,1460"/></g>
<g id="c-hnh"><rect class="n bl" x="108" y="3315" width="376" height="32"/><text class="l" x="114" y="3340" textLength="364" lengthAdjust="spacingAndGlyphs">Putative HNH endonuclease</text><polygon class="g" fill="#00e" transform="matrix(.7015 0 0 .3954 0 2780)" points="1068,1505 1100,1510 1125,1525 1115,1538 1072,1525"/></g>
<g id="c-tf"><rect class="n gn" x="1112" y="2859" width="227" height="33"/><text class="l" x="1118" y="2884" textLength="215" lengthAdjust="spacingAndGlyphs">Tail fiber protein</text><polygon class="g" fill="#070" transform="matrix(.75 0 0 .3954 1000 2780)" points="100,975 112,1000 100,1085 90,1095 80,1035"/></g>
<g id="c-phage"><rect class="n gn" x="1232" y="2905" width="378" height="31"/><text class="l" x="1238" y="2929" textLength="366" lengthAdjust="spacingAndGlyphs">Phage tail assembly protein</text><polygon class="g" fill="#070" transform="matrix(.75 0 0 .3954 1000 2780)" points="160,1005 175,1050 150,1115 135,1110 135,1045"/></g>
<g id="c-minor"><rect class="n gn" x="1300" y="2944" width="262" height="32"/><text class="l" x="1306" y="2969" textLength="250" lengthAdjust="spacingAndGlyphs">Minor tail protein L</text><polygon class="g" fill="#070" transform="matrix(.75 0 0 .3954 1000 2780)" points="200,1035 210,1075 180,1140 165,1130 165,1075"/></g>
<g id="c-gta"><rect class="n tl" x="1410" y="3026" width="518" height="32"/><text class="l" x="1416" y="3051" textLength="506" lengthAdjust="spacingAndGlyphs">Gene transfer agent tail tape measure</text><polygon class="g" fill="#0e8c60" transform="matrix(.75 0 0 .3954 1000 2780)" points="222,1125 293,1158 330,1260 290,1305 240,1200 245,1190"/></g>
<g id="c-ptb"><rect class="n bl" x="1525" y="3195" width="270" height="33"/><text class="l" x="1531" y="3220" textLength="258" lengthAdjust="spacingAndGlyphs">Putative tail protein</text><polygon class="g" fill="#00e" transform="matrix(.75 0 0 .3954 1000 2780)" points="375,1358 365,1375 372,1405 330,1428 315,1395 335,1365"/></g>
<g id="c-ptg"><rect class="n gn" x="1551" y="3273" width="270" height="32"/><text class="l" x="1557" y="3298" textLength="258" lengthAdjust="spacingAndGlyphs">Putative tail protein</text><polygon class="g" fill="#070" transform="matrix(.75 0 0 .3954 1000 2780)" points="395,1450 385,1462 388,1480 345,1497 330,1485 355,1455"/></g>
<g id="c-struct"><rect class="n bl" x="1559" y="3313" width="359" height="32"/><text class="l" x="1565" y="3338" textLength="347" lengthAdjust="spacingAndGlyphs">Putative structural protein</text><polygon class="g" fill="#00e" transform="matrix(.75 0 0 .3954 1000 2780)" points="400,1503 392,1530 350,1542 335,1525 360,1500"/></g>
<g id="c-capsid"><polygon class="g" fill="#b03060" transform="matrix(.75 0 0 .4005 1000 3400)" points="375,15 410,50 400,100 348,103 340,60"/></g>
<g id="c-hel"><rect class="n r" x="288" y="3425" width="184" height="31"/><text class="l" x="294" y="3449" textLength="172" lengthAdjust="spacingAndGlyphs">DNA helicase</text><polygon class="g" fill="#f00" transform="matrix(.7015 0 0 .4005 0 3400)" points="1088,22 1125,75 1112,80 1118,135 1065,148 1062,85 1050,80"/></g>
<g id="c-pol"><polygon class="g" fill="#f00" transform="matrix(.7015 0 0 .4005 0 3400)" points="1098,200 1145,262 1135,265 1160,345 1115,393 1090,310 1078,305"/></g>
<g id="c-pd"><rect class="n r" x="77" y="3798" width="560" height="32"/><text class="l" x="83" y="3823" textLength="548" lengthAdjust="spacingAndGlyphs">PD-(D/E)XK nuclease superfamily protein</text><polygon class="g" fill="#f00" transform="matrix(.7015 0 0 .4005 0 3400)" points="1172,460 1225,460 1243,510 1205,575 1170,525 1178,518"/></g>
<g id="c-hth"><rect class="n r" x="200" y="3895" width="573" height="31"/><text class="l" x="206" y="3919" textLength="561" lengthAdjust="spacingAndGlyphs">Helix-turn-helix domain containing protein</text><polygon class="g" fill="#f00" transform="matrix(.7015 0 0 .4005 0 3400)" points="1295,568 1310,590 1355,605 1365,590 1403,668 1340,710 1335,690 1270,640"/></g>
<g id="c-holin"><rect class="n bl" x="678" y="3952" width="457" height="32"/><text class="l" x="684" y="3977" textLength="445" lengthAdjust="spacingAndGlyphs">Putative holin-like class II protein</text><polygon class="g" fill="#00e" transform="matrix(.75 0 0 .4005 1000 3400)" points="90,615 102,620 110,705 103,710"/></g>
<g id="c-lyso"><rect class="n ly" x="1218" y="3952" width="141" height="32"/><text class="l" x="1224" y="3977" textLength="129" lengthAdjust="spacingAndGlyphs">Lysozyme</text><polygon class="g" fill="#b83200" transform="matrix(.75 0 0 .4005 1000 3400)" points="115,610 138,650 135,695 125,700 110,640"/></g>
<g id="c-calc"><rect class="n ye" x="1294" y="3907" width="701" height="32"/><text class="l" x="1300" y="3932" textLength="689" lengthAdjust="spacingAndGlyphs">Calcineurin-like phosphoesterase superfamily domai</text><polygon class="g" fill="#ff0" transform="matrix(.75 0 0 .4005 1000 3400)" points="177,560 210,590 205,650 172,665 155,605"/></g>
<g id="c-term"><rect class="n r" x="1400" y="3822" width="329" height="33"/><text class="l" x="1406" y="3847" textLength="317" lengthAdjust="spacingAndGlyphs">Terminase large subunit</text><polygon class="g" fill="#f00" transform="matrix(.75 0 0 .4005 1000 3400)" points="238,478 285,490 283,555 250,590 220,520"/></g>
<g id="c-structp"><rect class="n pk" x="1467" y="3740" width="244" height="32"/><text class="l" x="1473" y="3765" textLength="232" lengthAdjust="spacingAndGlyphs">Structural protein</text><polygon class="g" fill="#b03060" transform="matrix(.75 0 0 .4005 1000 3400)" points="325,380 335,460 300,505 265,445 280,390"/></g>
<!-- CONNECTORS -->
<g id="connectors">
<polyline class="cn" points="686,160 698,176 779,364"/><polyline class="cn" points="1005,125 961,344"/><polyline class="cd" points="961,358 950,408"/>
<polyline class="cn" points="1321,305 1266,348 1141,452"/><polyline class="cn" points="1351,344 1321,357 1156,470"/><polyline class="cn" points="1376,378 1341,383 1166,488"/><polyline class="cn" points="1401,427 1349,450 1184,521"/>
<polyline class="cn" points="396,443 614,533"/><polyline class="cn" points="353,622 593,646"/><polyline class="cn" points="368,757 600,709"/><polyline class="cn" points="679,734 705,723"/>
<polyline class="cn" points="1450,664 1390,664 1211,656"/><polyline class="cn" points="1420,816 1196,743"/><polyline class="cn" points="1324,995 1141,844"/><polyline class="cn" points="1266,1049 1229,1034 1101,883"/><polyline class="cn" points="1219,1081 1196,1059 1082,898"/><polyline class="cn" points="1144,1123 1124,1079 1043,922"/><polyline class="cn" points="955,1176 932,955"/><polyline class="cn" points="563,1071 708,888"/><polyline class="cn" points="786,1166 796,1144 837,949"/>
<polyline class="cn" points="626,1590 756,1744"/><polyline class="cn" points="554,1677 596,1705 712,1796"/><polyline class="cn" points="520,1732 561,1752 691,1829"/><polyline class="cn" points="452,2002 652,1996"/><polyline class="cn" points="1131,1505 1061,1686"/><polyline class="cn" points="1261,1591 1236,1611 1135,1742"/><polyline class="cd" points="1129,1750 1101,1792"/>
<polyline class="cn" points="1436,1877 1244,1920"/><polyline class="cn" points="1445,1918 1390,1928 1247,1946"/><polyline class="cn" points="1449,1957 1397,1955 1249,1965"/><polyline class="cn" points="1449,2011 1375,2008 1249,2001"/>
<polyline class="cn" points="497,2197 679,2112"/><polyline class="cn" points="624,2398 760,2227"/><polyline class="cn" points="754,2502 840,2278"/><polyline class="cn" points="951,2555 951,2297"/><polyline class="cn" points="1077,2559 1019,2467 994,2296"/><polyline class="cn" points="1142,2523 1052,2461 1016,2291"/><polyline class="cn" points="1204,2479 1131,2432 1067,2273"/><polyline class="cn" points="1345,2320 1182,2183"/>
<polyline class="cn" points="828,2928 918,3155"/><polyline class="cn" points="558,3148 768,3276"/><polyline class="cn" points="502,3266 735,3341"/><polyline class="cn" points="485,3330 725,3373"/><polyline class="cn" points="1118,2891 1116,2956 1075,3150"/><polyline class="cn" points="1234,2936 1199,2978 1127,3162"/><polyline class="cn" points="1300,2969 1247,2997 1154,3175"/><polyline class="cn" points="1410,3053 1232,3225"/><polyline class="cn" points="1523,3217 1295,3313"/><polyline class="cn" points="1551,3291 1487,3304 1311,3351"/><polyline class="cn" points="1559,3328 1317,3372"/><polyline class="cn" points="473,3435 512,3438 722,3431"/><polyline class="cn" points="637,3796 812,3629"/><polyline class="cn" points="771,3889 885,3680"/><polyline class="cd" points="915,3624 894,3666"/><polyline class="cn" points="1129,3944 1127,3897 1082,3704"/><polyline class="cn" points="1220,3948 1169,3888 1107,3700"/><polyline class="cn" points="1295,3903 1253,3853 1160,3679"/><polyline class="cn" points="1400,3821 1229,3644"/><polyline class="cn" points="1466,3740 1262,3596"/>
</g>
</g>
</svg>
